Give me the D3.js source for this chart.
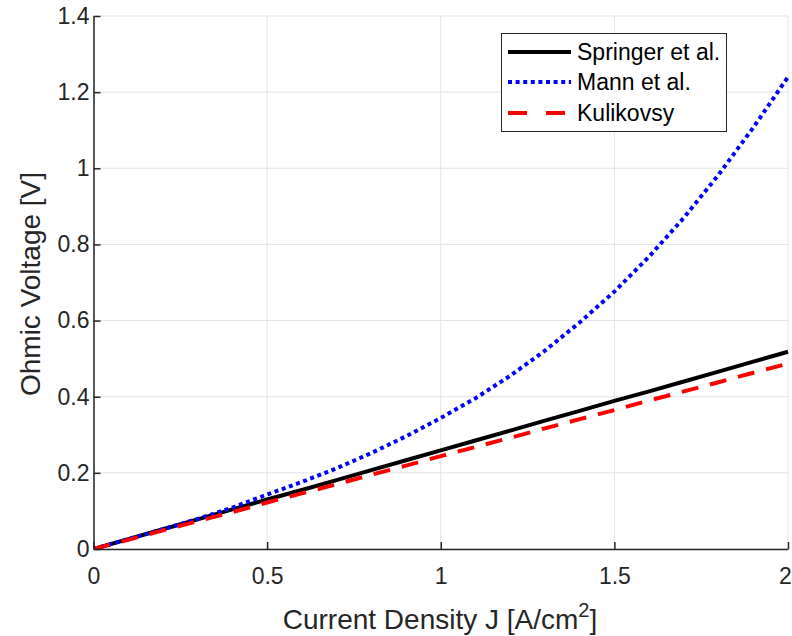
<!DOCTYPE html>
<html><head><meta charset="utf-8">
<script src="https://cdn.jsdelivr.net/npm/d3@7"></script>
<style>body{margin:0;background:#fff}svg{display:block}text{font-family:"Liberation Sans",Arial,sans-serif}</style>
</head><body><svg id="c" width="792" height="636"></svg>
<script>
const J = [0,0.1,0.2,0.3,0.4,0.5,0.6,0.7,0.8,0.9,1.0,1.1,1.2,1.3,1.4,1.5,1.6,1.7,1.8,1.9,2.0];
const springer = [0,0.026,0.052,0.078,0.104,0.13,0.155,0.181,0.207,0.233,0.259,0.285,0.311,0.337,0.363,0.389,0.414,0.44,0.466,0.492,0.518];
const mann = [0,0.026,0.052,0.079,0.109,0.143,0.176,0.212,0.252,0.296,0.344,0.396,0.455,0.521,0.595,0.676,0.768,0.870,0.983,1.107,1.24];
const kulikovsy = [0,0.024,0.049,0.073,0.097,0.122,0.146,0.170,0.195,0.219,0.244,0.268,0.292,0.317,0.341,0.365,0.390,0.414,0.438,0.463,0.487];
const xTicks = [0,0.5,1,1.5,2];
const xTickLabels = ["0","0.5","1","1.5","2"];
const yTicks = [0,0.2,0.4,0.6,0.8,1,1.2,1.4];
const yTickLabels = ["0","0.2","0.4","0.6","0.8","1","1.2","1.4"];
const seriesNames = ["Springer et al.","Mann et al.","Kulikovsy"];

const svg = d3.select("#c");
const L=93.5, R=788, T=16, B=549;
const x = d3.scaleLinear().domain([0,2]).range([L,R]);
const y = d3.scaleLinear().domain([0,1.4]).range([B,T]);

// grid
const g = svg.append("g");
g.selectAll(".gx").data(xTicks).join("line").attr("x1",d=>x(d)).attr("x2",d=>x(d)).attr("y1",T).attr("y2",B)
 .attr("stroke","#e3e3e3").attr("stroke-width",1);
g.selectAll(".gy").data(yTicks).join("line").attr("y1",d=>y(d)).attr("y2",d=>y(d)).attr("x1",L).attr("x2",R)
 .attr("stroke","#e3e3e3").attr("stroke-width",1);

// lines
const pts = arr => J.map((j,i)=>[j,arr[i]]);
const line = d3.line().x(d=>x(d[0])).y(d=>y(d[1]));
const styles = [
  {data:springer,color:"#000000",dash:null,w:4},
  {data:mann,color:"#0000ff",dash:"4,3.6",w:4},
  {data:kulikovsy,color:"#ff0000",dash:"17,12",w:4}
];
svg.append("clipPath").attr("id","cp").append("rect").attr("x",L).attr("y",T-3).attr("width",R-L+3).attr("height",B-T+3);
styles.forEach(s=>{
  svg.append("path").datum(pts(s.data)).attr("d",line).attr("fill","none")
    .attr("stroke",s.color).attr("stroke-width",s.w).attr("stroke-dasharray",s.dash)
    .attr("clip-path","url(#cp)");
});

// axes
const ax = svg.append("g").attr("transform",`translate(0,${B})`)
  .call(d3.axisBottom(x).tickValues(xTicks).tickFormat((d,i)=>xTickLabels[i]).tickSizeInner(-7).tickSizeOuter(0).tickPadding(19));
const ay = svg.append("g").attr("transform",`translate(${L},0)`)
  .call(d3.axisLeft(y).tickValues(yTicks).tickFormat((d,i)=>yTickLabels[i]).tickSizeInner(-7).tickSizeOuter(0).tickPadding(11));
[ax,ay].forEach(a=>{
  a.select(".domain").attr("stroke","#262626").attr("stroke-width",1.5);
  a.selectAll(".tick line").attr("stroke","#262626").attr("stroke-width",1.5);
  a.selectAll(".tick text").attr("fill","#262626").attr("font-size",23).attr("font-family","'Liberation Sans',Arial,sans-serif");
});
ay.selectAll(".tick text").attr("dx",7);
ax.selectAll(".tick text").attr("dy","0.71em").attr("dx",(d,i)=>i===4?-3:0);

// axis labels
const xl = svg.append("text").attr("x",440).attr("y",629).attr("text-anchor","middle").attr("font-size",28).attr("fill","#262626");
xl.append("tspan").text("Current Density J [A/cm");
xl.append("tspan").attr("font-size",20).attr("dy",-12).text("2");
xl.append("tspan").attr("dy",12).text("]");
svg.append("text").attr("transform",`translate(40,284) rotate(-90)`).attr("text-anchor","middle")
  .attr("font-size",28).attr("fill","#262626").text("Ohmic Voltage [V]");

// legend
const lg = svg.append("g");
lg.append("rect").attr("x",501.5).attr("y",33.5).attr("width",225).attr("height",98).attr("fill","#fff").attr("stroke","#262626").attr("stroke-width",1);
const rows=[52,82,113];
styles.forEach((s,i)=>{
  lg.append("line").attr("x1",508).attr("x2",571).attr("y1",rows[i]).attr("y2",rows[i])
    .attr("stroke",s.color).attr("stroke-width",4).attr("stroke-dasharray",i==2?"19,19":s.dash);
  lg.append("text").attr("x",577).attr("y",rows[i]).attr("dy","0.36em").attr("font-size",23).attr("fill","#000").text(seriesNames[i]);
});
</script></body></html>
